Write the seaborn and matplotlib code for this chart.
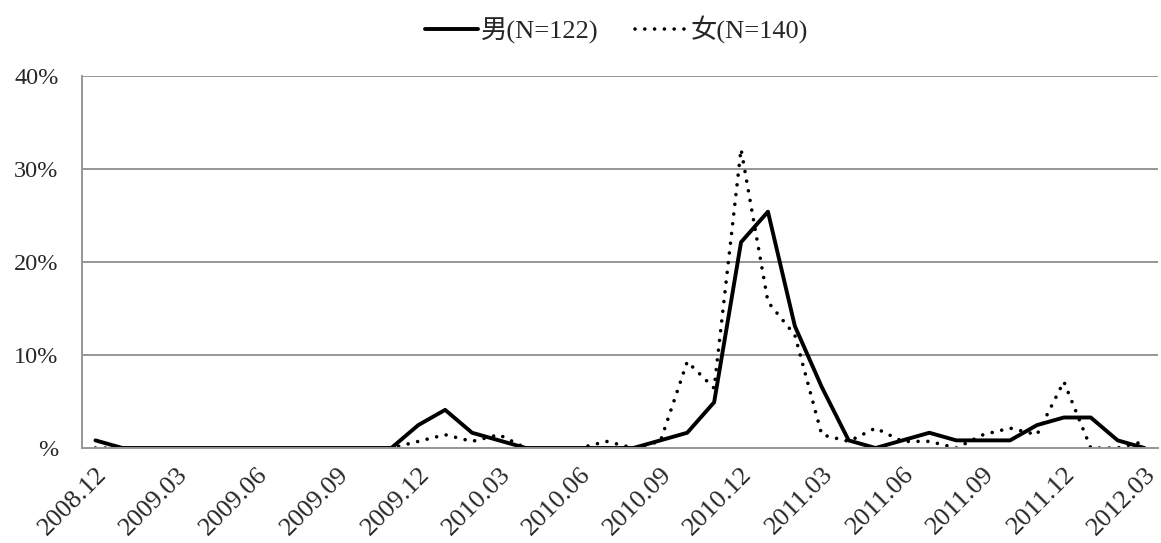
import numpy as np
import matplotlib
matplotlib.use("Agg")
import matplotlib.pyplot as plt
import pandas as pd
import seaborn as sns

# months 2008.12 - 2012.03
months = ["2008.12"] + ["2009.%02d" % m for m in range(1, 13)] + \
         ["2010.%02d" % m for m in range(1, 13)] + \
         ["2011.%02d" % m for m in range(1, 13)] + ["2012.01", "2012.02", "2012.03"]

# share of respondents (%)
male = [0.82, 0, 0, 0, 0, 0, 0, 0, 0, 0, 0, 0, 2.46, 4.10, 1.64, 0.82, 0, 0, 0, 0,
        0, 0.82, 1.64, 4.92, 22.13, 25.41, 13.11, 6.56, 0.82, 0, 0.82, 1.64, 0.82, 0.82,
        0.82, 2.46, 3.28, 3.28, 0.82, 0]
female = [0, 0, 0, 0, 0, 0, 0, 0, 0, 0, 0, 0, 0.71, 1.43, 0.71, 1.43, 0, 0, 0, 0.71,
          0, 0.71, 9.29, 6.43, 32.14, 15.71, 12.14, 1.43, 0.71, 2.14, 0.71, 0.71, 0, 1.43,
          2.14, 1.43, 7.14, 0, 0, 0.71]
male_label = "男(N=122)"
female_label = "女(N=140)"
y_ticks = [0, 10, 20, 30, 40]

sns.set_style("white")
plt.rcParams['font.family'] = ['Liberation Serif', 'Noto Sans CJK SC']

df = pd.DataFrame({"month": months * 2,
                   "value": male + female,
                   "sex": [male_label] * len(months) + [female_label] * len(months)})

fig = plt.figure(figsize=(11.61, 5.43), dpi=100)
ax = fig.add_axes([82 / 1161, 1 - 448 / 543, 1076 / 1161, 372 / 543])

for ypos in y_ticks[1:]:
    ax.axhline(ypos, color="#969696", lw=1.4, zorder=0)

sns.lineplot(data=df[df.sex == male_label], x="month", y="value", ax=ax,
             color="black", lw=2.8, label=male_label, sort=False)
sns.lineplot(data=df[df.sex == female_label], x="month", y="value", ax=ax,
             color="black", lw=2.6, label=female_label, sort=False,
             linestyle=(0, (0.01, 2.7)), dash_capstyle="round")

ax.set_xlim(-0.5, len(months) - 0.5)
ax.set_ylim(0, 40)
ax.set_yticks(y_ticks)
ax.set_yticklabels(["%d%%" % t if t else "%" for t in y_ticks], fontsize=17.5)
ax.set_xticks(range(0, len(months), 3))
ax.set_xticklabels(months[::3], rotation=45, ha="right", rotation_mode="anchor",
                   fontsize=19)
ax.set_xticks(np.arange(-0.5, len(months), 1), minor=True)
ax.tick_params(axis="x", which="major", length=0, pad=11)
ax.tick_params(axis="x", which="minor", length=6, color="#969696", width=1.4, direction="out")
ax.tick_params(axis="y", length=6, color="#969696", width=1.4, direction="out", pad=11)
ax.set_xlabel("")
ax.set_ylabel("")

for side in ["top", "right"]:
    ax.spines[side].set_visible(False)
for side in ["left", "bottom"]:
    ax.spines[side].set_color("#969696")
    ax.spines[side].set_linewidth(1.4)

leg = ax.legend(loc="upper center", bbox_to_anchor=(0.497, 1.225), ncol=2, frameon=False,
                fontsize=19, handlelength=2.0, handletextpad=0.1, columnspacing=1.4)

fig.savefig("out.png", dpi=100)
